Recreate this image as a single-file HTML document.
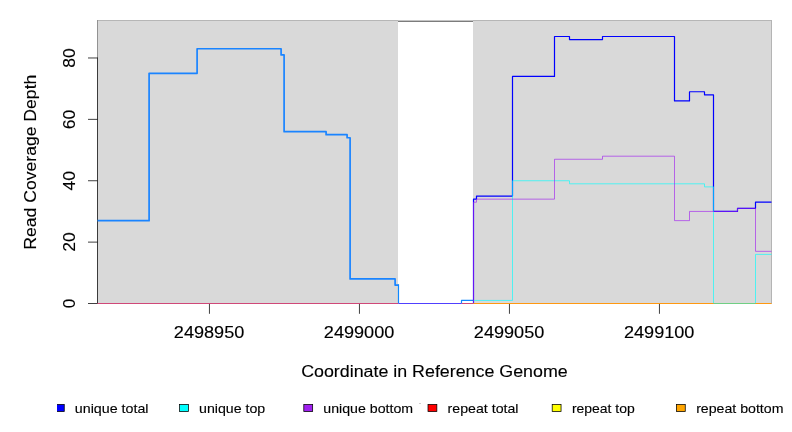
<!DOCTYPE html>
<html><head><meta charset="utf-8"><title>Read Coverage</title>
<style>
html,body{margin:0;padding:0;background:#fff;}
body{width:792px;height:432px;overflow:hidden;position:relative;font-family:"Liberation Sans",sans-serif;}
</style></head><body>
<svg width="792" height="432" viewBox="0 0 792 432" style="position:absolute;left:0;top:0;will-change:transform">
<rect width="792" height="432" fill="#fff"/>
<rect x="97.5" y="20.5" width="300.5" height="283.0" fill="#d9d9d9"/>
<rect x="473.0" y="20.5" width="298.5" height="283.0" fill="#d9d9d9"/>
<rect x="97" y="20" width="675" height="1" fill="#b6b6b6"/>
<rect x="398" y="20" width="75" height="1" fill="#c4c4c4"/>
<rect x="398" y="21" width="75" height="1" fill="#7c7c7c"/>
<rect x="771" y="20" width="1" height="284" fill="#b4b4b4"/>
<rect x="97" y="20" width="1" height="38" fill="#929292"/>
<path d="M97.5,57.61V303.88" stroke="#000" stroke-width="0.75" fill="none"/>
<path d="M88,303.50H97.5" stroke="#000" stroke-width="0.75" fill="none"/>
<path d="M88,242.12H97.5" stroke="#000" stroke-width="0.75" fill="none"/>
<path d="M88,180.74H97.5" stroke="#000" stroke-width="0.75" fill="none"/>
<path d="M88,119.36H97.5" stroke="#000" stroke-width="0.75" fill="none"/>
<path d="M88,57.98H97.5" stroke="#000" stroke-width="0.75" fill="none"/>
<path d="M209.45,303.5V313.8" stroke="#000" stroke-width="0.75" fill="none"/>
<path d="M359.45,303.5V313.8" stroke="#000" stroke-width="0.75" fill="none"/>
<path d="M509.45,303.5V313.8" stroke="#000" stroke-width="0.75" fill="none"/>
<path d="M659.45,303.5V313.8" stroke="#000" stroke-width="0.75" fill="none"/>
<g fill="none" stroke-linejoin="round" stroke-linecap="butt">
<path d="M97.50,220.64 H149.10 V73.33 H197.10 V48.77 H281.10 V54.91 H284.10 V131.64 H326.10 V134.71 H347.10 V137.77 H350.10 V278.95 H395.10 V285.09 H398.50" stroke="#1a84ff" stroke-width="1.7"/>
<path d="M398.5,284.24V303.5 M461.5,303.5V300.43H473.5" stroke="#0f88ff" stroke-width="1.2"/>
<path d="M473.50,303.50 H473.50 V199.15 H476.50 V196.09 H512.50 V76.39 H554.50 V36.50 H569.50 V39.57 H602.50 V36.50 H674.50 V100.95 H689.50 V91.74 H704.50 V94.81 H713.50 V211.43 H737.50 V208.36 H755.50 V202.22 H771.50" stroke="#0000ff" stroke-width="1.2"/>
<path d="M473.50,300.43 H512.50 V180.74 H569.50 V183.81 H704.50 V186.88 H713.50 V303.50 H755.50 V254.40 H771.50" stroke="#00ffff" stroke-width="0.75" stroke-opacity="0.85"/>
<path d="M473.50,303.50 H473.50 V202.22 H476.50 V199.15 H554.50 V159.26 H602.50 V156.19 H674.50 V220.64 H689.50 V211.43 H737.50 V208.36 H755.50 V251.33 H771.50" stroke="#a020f0" stroke-width="0.75" stroke-opacity="0.85"/>
</g>
<path d="M97.5,303.5H398.5" stroke="#d04878" stroke-width="1" fill="none"/>
<path d="M461.5,303.5H473.5" stroke="#d04878" stroke-width="1" fill="none"/>
<path d="M398.5,303.5H461.5" stroke="#5040ff" stroke-width="1" fill="none"/>
<path d="M473.5,303.5H771.5" stroke="#ff9810" stroke-width="1" fill="none"/>
<path d="M713.5,303.5H755.5" stroke="#70cf84" stroke-width="1" fill="none"/>
<g font-family="Liberation Sans, sans-serif" fill="#000" stroke="#000" stroke-width="0.12">
<text x="209.1" y="337.8" font-size="16" text-anchor="middle" textLength="70.5" lengthAdjust="spacingAndGlyphs">2498950</text>
<text x="359.1" y="337.8" font-size="16" text-anchor="middle" textLength="70.5" lengthAdjust="spacingAndGlyphs">2499000</text>
<text x="509.1" y="337.8" font-size="16" text-anchor="middle" textLength="70.5" lengthAdjust="spacingAndGlyphs">2499050</text>
<text x="659.2" y="337.8" font-size="16" text-anchor="middle" textLength="70.5" lengthAdjust="spacingAndGlyphs">2499100</text>
<text x="434.4" y="377.3" font-size="16" text-anchor="middle" textLength="266.5" lengthAdjust="spacingAndGlyphs">Coordinate in Reference Genome</text>
<text x="75.2" y="303.5" font-size="16" text-anchor="middle" textLength="9.5" lengthAdjust="spacingAndGlyphs" transform="rotate(-90 75.2 303.5)">0</text>
<text x="75.2" y="242.1" font-size="16" text-anchor="middle" textLength="19.5" lengthAdjust="spacingAndGlyphs" transform="rotate(-90 75.2 242.1)">20</text>
<text x="75.2" y="180.7" font-size="16" text-anchor="middle" textLength="19.5" lengthAdjust="spacingAndGlyphs" transform="rotate(-90 75.2 180.7)">40</text>
<text x="75.2" y="119.4" font-size="16" text-anchor="middle" textLength="19.5" lengthAdjust="spacingAndGlyphs" transform="rotate(-90 75.2 119.4)">60</text>
<text x="75.2" y="58.0" font-size="16" text-anchor="middle" textLength="19.5" lengthAdjust="spacingAndGlyphs" transform="rotate(-90 75.2 58.0)">80</text>
<text x="36.2" y="162.2" font-size="16" text-anchor="middle" textLength="175" lengthAdjust="spacingAndGlyphs" transform="rotate(-90 36.2 162.2)">Read Coverage Depth</text>
<clipPath id="lc"><rect x="57.1" y="390" width="740" height="42"/></clipPath>
<g clip-path="url(#lc)">
<rect x="55.40" y="404.4" width="8.85" height="7.15" fill="#0000ff" stroke="#000" stroke-width="0.75"/>
<text x="74.80" y="413.3" font-size="12.4" textLength="73.7" lengthAdjust="spacingAndGlyphs">unique total</text>
<rect x="179.60" y="404.4" width="8.85" height="7.15" fill="#00ffff" stroke="#000" stroke-width="0.75"/>
<text x="199.07" y="413.3" font-size="12.4" textLength="66.2" lengthAdjust="spacingAndGlyphs">unique top</text>
<rect x="303.80" y="404.4" width="8.85" height="7.15" fill="#a020f0" stroke="#000" stroke-width="0.75"/>
<text x="323.35" y="413.3" font-size="12.4" textLength="89.7" lengthAdjust="spacingAndGlyphs">unique bottom</text>
<rect x="428.00" y="404.4" width="8.85" height="7.15" fill="#ff0000" stroke="#000" stroke-width="0.75"/>
<text x="447.63" y="413.3" font-size="12.4" textLength="70.9" lengthAdjust="spacingAndGlyphs">repeat total</text>
<rect x="552.20" y="404.4" width="8.85" height="7.15" fill="#ffff00" stroke="#000" stroke-width="0.75"/>
<text x="571.90" y="413.3" font-size="12.4" textLength="62.9" lengthAdjust="spacingAndGlyphs">repeat top</text>
<rect x="676.40" y="404.4" width="8.85" height="7.15" fill="#ffa500" stroke="#000" stroke-width="0.75"/>
<text x="696.17" y="413.3" font-size="12.4" textLength="87.3" lengthAdjust="spacingAndGlyphs">repeat bottom</text>
</g>
<rect x="419" y="403" width="2" height="1" fill="#cfcfcf" stroke="none"/>
</g>
</svg>
</body></html>
